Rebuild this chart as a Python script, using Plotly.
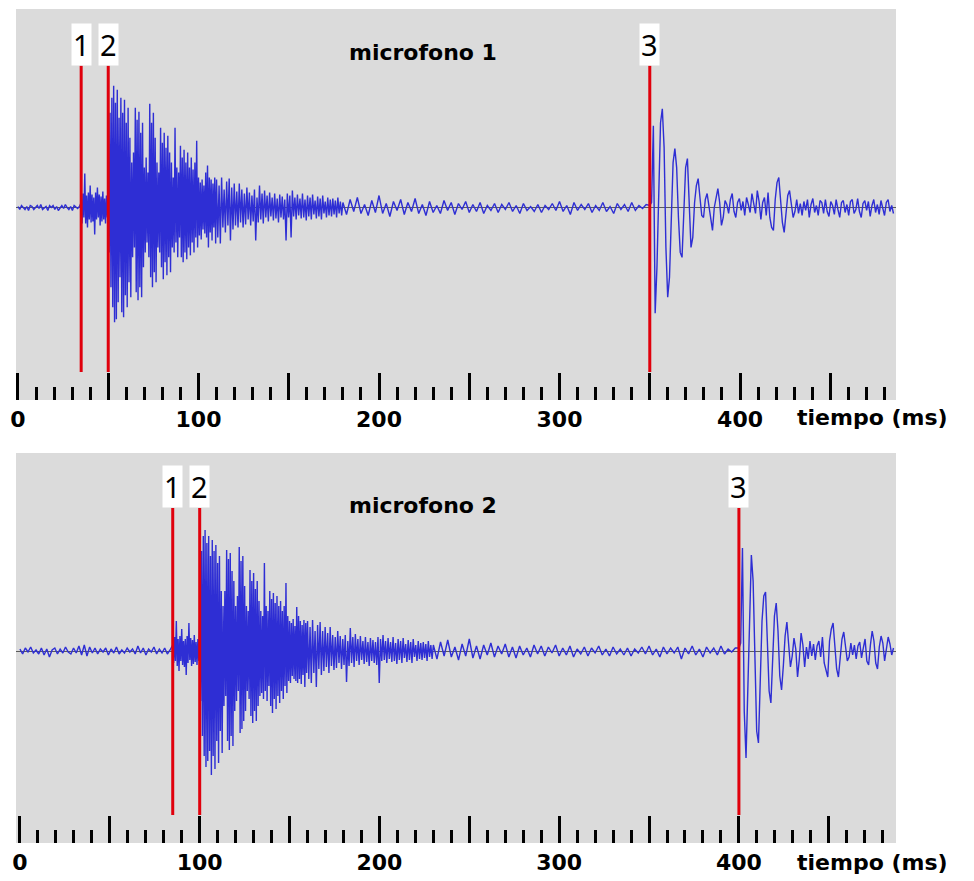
import plotly.graph_objects as go

# ---------------- data ----------------
EVENT_LABELS = ["1", "2", "3"]
EVENTS_MIC1 = [35, 50, 350]      # ms
EVENTS_MIC2 = [85, 100, 400]     # ms
TITLES = ["microfono 1", "microfono 2"]
TICK_VALUES = [0, 50, 100, 150, 200, 250, 300, 350, 400, 450]
TICK_TEXT = ["0", "", "100", "", "200", "", "300", "", "400", ""]
AXIS_LABEL = "tiempo (ms)"

# amplitude samples (arbitrary units, + up), grouped by time segment
MIC1_BOUNDS = [0, 35, 50, 110, 180, 350, 486]
mic1_pre = [1, -2, 2, 0, -2, 1, -3, 2, 1, -2, 0, 2, -1, 3, -2, 0, 1, -3, 2, 0,
            2, -2, 1, -3, 0, 2, -1, 3, 0, -2, 1, -3, 2, 0, -1, 1]
mic1_onset = [5, -16, 14, -10, 34, -16, 12, -20, 15, -12, 22, -15, 13, -14, 10, -27,
              15, -12, 20, -10, 13, -18, 11, -14, 16, -12, 9, -16, 12, -10]
mic1_burst = [30, -45, 95, -80, 110, -100, 122, -115, 105, -112, 118, -95, 90, -70,
              110, -105, 95, -110, 108, -88, 85, -100, 100, -75, 70, -90, 45, -50,
              55, -40, 100, -85, 88, -93, 96, -80, 75, -90, 85, -60, 40, -45, 50, -35,
              35, -50, 104, -70, 85, -80, 95, -65, 70, -75, 45, -40, 35, -45, 80, -60,
              65, -72, 75, -55, 60, -68, 72, -50, 55, -65, 45, -40, 30, -45, 80, -35,
              40, -50, 35, -30, 62, -50, 50, -55, 58, -45, 45, -52, 55, -40, 40, -48,
              50, -35, 38, -45, 45, -30, 67, -40, 30, -28, 25, -32, 28, -22, 22, -26,
              35, -30, 42, -40, 30, -25, 28, -33, 24, -20, 30, -36]
mic1_decay = [28, -30, 22, -36, 30, -20, 18, -25, 26, -18, 29, -33, 20, -22, 24, -18,
              16, -20, 24, -15, 18, -20, 14, -17, 20, -12, 15, -18, 12, -14, 18, -33,
              10, -15, 22, -12, 14, -16, 17, -10, 12, -14, 15, -9, 10, -13, 14, -11,
              9, -15, 13, -10, 11, -12, 8, -33, 14, -10, 12, -30, 17, -9, 10, -12,
              13, -8, 9, -11, 14, -10, 8, -13, 12, -9, 10, -12, 13, -7, 7, -11,
              11, -9, 9, -12, 12, -6, 6, -10, 10, -8, 8, -9, 9, -7, 7, -10,
              10, -6, 6, -8]
mic1_quiet = [5, -7, 8, -4, 10, -6, 3, -8, 7, -5, 12, -6, 4, -9, 6, -3, 8, -7, 5, -4,
              9, -6, 3, -8, 6, -5, 2, -6, 7, -3, 5, -7, 4, -2, 6, -5, 3, -4, 5, -6,
              2, -3, 4, -5, 3, -2, 5, -4, 2, -6, 4, -3, 1, -4, 3, -5, 2, -2, 4, -3,
              6, -4, 2, -7, 5, -3, 3, -2, 4, -5, 2, -3, 5, -4, 1, -6, 4, -2, 3, -4,
              5, -3, 2, -1, 3]
mic1_echo = [2, 5, 82, -106, -60, 20, 85, 99, 60, -40, -90, -70, -10, 45, 59, 40,
             -10, -45, -50, -5, 40, 49, 10, -40, -30, 5, 22, 29, 10, -8, -10, 8,
             14, 2, -15, -23, 0, 12, 19, 5, -18, -10, 7, 3, -6, 8, 14, -4,
             -10, 5, 9, -3, 6, -8, 10, 3, -5, 14, 4, -6, 17, 6, -12, 5,
             10, -8, 15, -10, -20, -23, 8, 25, 30, 5, -15, -25, -5, 12, 17, 3,
             -10, -4, 8, -6, 4, -8, 6, -3, 8, -10, 3, 9, -5, 2, -8, 7,
             5, -6, 8, -4, -9, 6, 2, -7, 8, -2, -10, 5, 7, -5, 3, -8,
             6, 8, -6, -2, 9, -4, -10, 4, 7, -3, 6, -9, 2, 8, -5, 3,
             -7, 7, -2, -8, 5, 8, -4, 2, -6]

MIC2_BOUNDS = [0, 85, 100, 160, 230, 400, 487]
mic2_pre = [2, -3, 3, -1, 4, -2, 1, -3, 3, -4, 2, -6, 1, 3, -3, 2, -2, 4, -1, -3,
            3, -2, 5, -4, 6, -5, 4, -2, 3, -3, 2, -1, 3, -4, 2, -2, 4, -3, 1, -2,
            3, -1, 2, -3, 5, -2, 3, -4, 2, -1, 4, -3, 2, -2, 3, -3, 1]
mic2_onset = [6, -12, 14, -10, 30, -15, 12, -20, 15, -10, 22, -14, 10, -16, 12, -24,
              15, -12, 28, -9, 13, -15, 11, -13, 16, -11, 9, -14, 12, -10]
mic2_burst = [35, -50, 100, -85, 115, -105, 121, -116, 108, -110, 115, -100, 95, -124,
              111, -105, 100, -118, 106, -90, 88, -112, 95, -80, 60, -102, 45, -55,
              60, -45, 101, -90, 92, -99, 98, -85, 80, -95, 70, -60, 45, -50, 55, -40,
              104, -82, 90, -78, 95, -70, 65, -60, 45, -40, 40, -48, 81, -65, 70, -72,
              78, -60, 62, -70, 70, -55, 50, -45, 40, -42, 35, -48, 88, -40, 45, -50,
              40, -35, 60, -55, 52, -62, 58, -48, 48, -58, 55, -45, 45, -52, 50, -40,
              40, -48, 45, -35, 68, -42, 35, -30, 30, -32, 28, -25, 32, -28, 25, -30,
              44, -32, 35, -28, 30, -33, 26, -24, 31, -36, 28, -22]
mic2_decay = [30, -28, 24, -32, 31, -22, 20, -36, 26, -18, 29, -24, 20, -20, 24, -16,
              18, -22, 24, -15, 16, -19, 14, -17, 20, -12, 15, -18, 12, -14, 16, -31,
              10, -15, 23, -12, 14, -16, 17, -10, 12, -14, 15, -9, 10, -13, 14, -11,
              9, -15, 13, -10, 11, -12, 9, -14, 14, -32, 12, -10, 16, -9, 10, -12,
              13, -8, 9, -11, 14, -10, 8, -13, 12, -9, 10, -12, 13, -7, 7, -11,
              11, -9, 9, -12, 12, -6, 6, -10, 10, -8, 8, -9, 9, -7, 7, -10,
              10, -6, 6, -8]
mic2_quiet = [6, -8, 9, -5, 11, -6, 4, -9, 7, -5, 12, -7, 5, -8, 6, -4, 8, -6, 5, -3,
              7, -6, 4, -7, 5, -4, 3, -6, 6, -3, 5, -5, 4, -2, 6, -5, 3, -4, 5, -6,
              2, -3, 4, -5, 3, -2, 5, -4, 2, -5, 4, -3, 2, -4, 3, -5, 2, -2, 4, -3,
              5, -4, 2, -6, 4, -3, 3, -2, 4, -8, 3, -3, 5, -4, 2, -6, 4, -2, 3, -4,
              5, -3, 2, -1, 3]
mic2_echo = [3, 8, 103, -60, -107, -40, 50, 96, 70, -20, -80, -92, -30, 30, 55, 59,
             10, -40, -52, -10, 35, 48, 20, -25, -39, -15, 15, 29, 10, -16, -5, 13,
             2, -26, -8, 18, 6, -16, 4, -8, 10, -5, 7, -9, 5, 10, -6, 14,
             -12, -20, -26, 10, 22, 28, 5, -18, -26, -5, 12, 19, 5, -10, -6, 8,
             -4, 6, -8, 5, 9, -7, 3, 12, -10, -14, 6, 20, 10, -12, -18, 4,
             15, 8, -10, 2, 14, 7, -4, 3]

MIC1_SEGMENTS = [mic1_pre, mic1_onset, mic1_burst, mic1_decay, mic1_quiet, mic1_echo]
MIC2_SEGMENTS = [mic2_pre, mic2_onset, mic2_burst, mic2_decay, mic2_quiet, mic2_echo]


def build_series(bounds, segments):
    t, v = [], []
    for (a, b), vals in zip(zip(bounds[:-1], bounds[1:]), segments):
        n = len(vals)
        for i, val in enumerate(vals):
            t.append(a + (b - a) * i / n)
            v.append(val)
    return t, v


# ---------------- figure ----------------
OFF = 8                      # page body margin of the html page
W, H = 974 - OFF, 881 - OFF
BG = "#dbdbdb"
WAVE = "rgb(46,46,212)"
RED = "#e0000c"


def px(x):
    return (x - OFF) / W


def py(y):
    return 1 - (y - OFF) / H


fig = go.Figure()
t1, v1 = build_series(MIC1_BOUNDS, MIC1_SEGMENTS)
t2, v2 = build_series(MIC2_BOUNDS, MIC2_SEGMENTS)
fig.add_trace(go.Scatter(x=t1, y=v1, mode="lines", line=dict(color=WAVE, width=1.4),
                         xaxis="x", yaxis="y", hoverinfo="skip"))
fig.add_trace(go.Scatter(x=t2, y=v2, mode="lines", line=dict(color=WAVE, width=1.4),
                         xaxis="x2", yaxis="y2", hoverinfo="skip"))

xdom = [px(16), px(896)]
tickfont = dict(family="DejaVu Sans", size=22, color="black", weight="bold")


def xaxis_cfg(rng, anchor):
    return dict(domain=xdom, range=rng, anchor=anchor, tickmode="array",
                tickvals=TICK_VALUES, ticktext=TICK_TEXT, ticks="inside",
                ticklen=27, tickwidth=3, tickcolor="black", ticklabelstandoff=4,
                minor=dict(ticks="inside", ticklen=13, tickwidth=3, tickcolor="black",
                           tickmode="linear", tick0=0, dtick=10),
                showgrid=False, zeroline=False, showline=False, tickfont=tickfont,
                automargin=False, fixedrange=True)


def yaxis_cfg(dom, rng, anchor):
    return dict(domain=dom, range=rng, anchor=anchor, showticklabels=False,
                showgrid=False, zeroline=True, zerolinecolor="#5a5a5a",
                zerolinewidth=1, ticks="", automargin=False, fixedrange=True)


fig.update_layout(
    width=W, height=H, margin=dict(l=0, r=0, t=0, b=0),
    paper_bgcolor="white", plot_bgcolor=BG, showlegend=False,
    xaxis=xaxis_cfg([-1.1, 486.4], "y"),
    yaxis=yaxis_cfg([py(400), py(9)], [-193, 199], "x"),
    xaxis2=xaxis_cfg([-2.2, 487.4], "y2"),
    yaxis2=yaxis_cfg([py(843), py(453)], [-192, 198], "x2"),
)

shapes, annotations = [], []
for events, xr, yr, ytop, ybot in [(EVENTS_MIC1, "x", "y", 142, -165),
                                   (EVENTS_MIC2, "x2", "y2", 143, -164)]:
    for ev, lab in zip(events, EVENT_LABELS):
        shapes.append(dict(type="line", xref=xr, yref=yr, x0=ev, x1=ev, y0=ybot, y1=ytop,
                           line=dict(color=RED, width=3), layer="above"))
        annotations.append(dict(x=ev, y=ytop, xref=xr, yref=yr, text=lab, showarrow=False,
                                xanchor="center", yanchor="bottom", bgcolor="white",
                                borderpad=1,
                                font=dict(family="Noto Sans", size=29, color="black")))

title_font = dict(family="DejaVu Sans", size=22, color="black", weight="bold")
for title, yc in zip(TITLES, [52, 505]):
    annotations.append(dict(x=px(423), y=py(yc), xref="paper", yref="paper",
                            text=title, showarrow=False, xanchor="center",
                            yanchor="middle", font=title_font))
for yc in [417, 862]:
    annotations.append(dict(x=px(872), y=py(yc), xref="paper", yref="paper",
                            text=AXIS_LABEL, showarrow=False, xanchor="center",
                            yanchor="middle", font=tickfont))

fig.update_layout(shapes=shapes, annotations=annotations)
fig.write_html("out.html")
